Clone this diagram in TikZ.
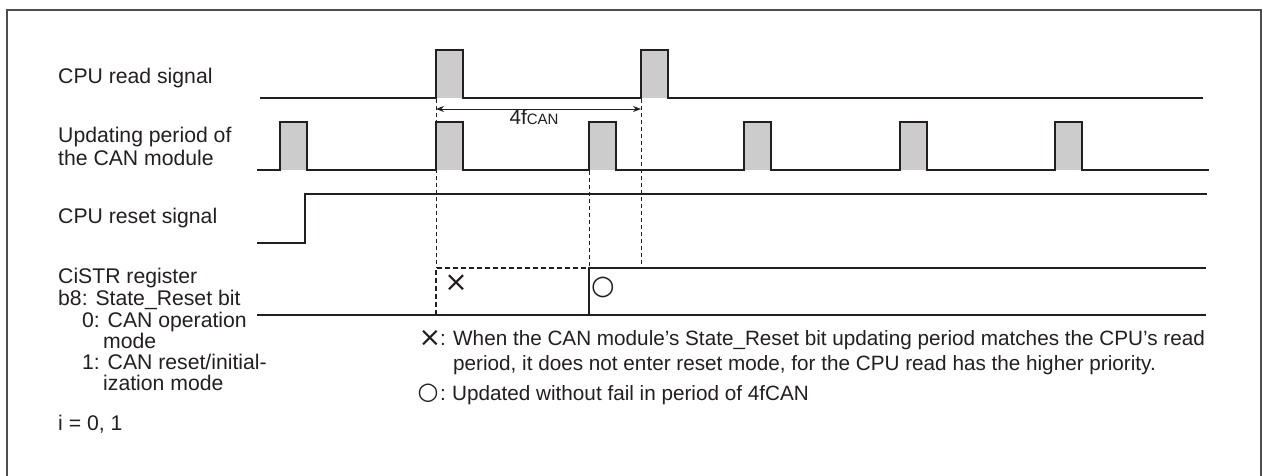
\documentclass[tikz,border=0pt]{standalone}
\usepackage{fontspec}
\setmainfont{Liberation Sans}
\newfontfamily\symfont{DejaVu Sans}
\usetikzlibrary{arrows.meta}
\definecolor{ink}{HTML}{231F20}
\definecolor{pulsefill}{HTML}{CCCCCC}
\definecolor{framecol}{HTML}{4D4D4D}
\begin{document}
\begin{tikzpicture}[x=1pt,y=-1pt,
  sig/.style={draw=ink,line width=2pt,line join=miter},
  guide/.style={draw=ink,line width=0.9pt,dash pattern=on 4pt off 3pt},
  regdash/.style={draw=ink,line width=1.8pt,dash pattern=on 5pt off 3pt},
  pulse/.style={fill=pulsefill},
  lbl/.style={anchor=base west,inner sep=0pt,font=\fontsize{21.2}{22}\selectfont,text=ink},
  note/.style={anchor=base west,inner sep=0pt,font=\fontsize{20.7}{22}\selectfont,text=ink},
  symb/.style={inner sep=0pt,text=ink},
]
\useasboundingbox (0,0) rectangle (1262,475);
\fill[white] (0,0) rectangle (1262,475);
\draw[framecol,line width=2pt] (7,477) -- (7,10) -- (1261,10) -- (1261,477);

% left labels
\node[lbl] (l1) at (58,83) {CPU read signal};
\node[lbl] (l2a) at (58,142.5) {Updating period of};
\node[lbl] (l2b) at (58,165) {the CAN module};
\node[lbl] (l3) at (58,223) {CPU reset signal};
\node[lbl] (l4a) at (58,283) {CiSTR register};
\node[lbl] (l4b) at (58,305) {b8: State\_Reset bit};
\node[lbl] (l4c) at (82,327) {0: CAN operation};
\node[lbl] (l4d) at (103,348) {mode};
\node[lbl] (l4e) at (82,369) {1: CAN reset/initial-};
\node[lbl] (l4f) at (103,390) {ization mode};
\node[lbl] (l5) at (58,430) {i = 0, 1};

% pulse fills
\foreach \x in {436,641} \fill[pulse] (\x,50) rectangle (\x+27,98);
\foreach \x in {280,436,589,744,900,1055} \fill[pulse] (\x,122) rectangle (\x+27,170);

% dashed guides
\draw[guide] (436,99) -- (436,268);
\draw[guide] (641,99) -- (641,268);
\draw[guide] (589,171) -- (589,268);

% CPU read signal
\draw[sig] (260,98) -- (436,98) -- (436,50) -- (463,50) -- (463,98) -- (641,98) -- (641,50) -- (668,50) -- (668,98) -- (1203,98);
% Updating period
\draw[sig] (257,170) -- (280,170) -- (280,122) -- (307,122) -- (307,170)
  -- (436,170) -- (436,122) -- (463,122) -- (463,170)
  -- (589,170) -- (589,122) -- (616,122) -- (616,170)
  -- (744,170) -- (744,122) -- (771,122) -- (771,170)
  -- (900,170) -- (900,122) -- (927,122) -- (927,170)
  -- (1055,170) -- (1055,122) -- (1082,122) -- (1082,170) -- (1209,170);
% CPU reset
\draw[sig] (257,243) -- (305,243) -- (305,194) -- (1207,194);
% CiSTR register
\draw[sig] (257,315) -- (1206,315);
\draw[regdash] (436,315) -- (436,268) -- (589,268);
\draw[sig] (589,315) -- (589,268) -- (1206,268);

% 4fCAN dimension
\coordinate (a1) at (436,109);
\coordinate (a2) at (641,109);
\draw[ink,line width=0.9pt,{Stealth[length=8pt,width=6pt]}-{Stealth[length=8pt,width=6pt]}] (a1) -- (a2);
\node[note,anchor=base] (dim) at (534,124) {4f{\fontsize{15}{15}\selectfont CAN}};

% marks in register
\node[symb,font=\symfont\fontsize{28}{28}\selectfont] (x1) at (456,283) {×};
\node[symb,font=\symfont\fontsize{27}{27}\selectfont] (o1) at (603,287) {○};

% notes
\node[symb,font=\symfont\fontsize{27}{27}\selectfont] (x2) at (430,338) {×};
\node[note] (c1) at (440,345) {:};
\node[note] (n1) at (453,345) {When the CAN module’s State\_Reset bit updating period matches the CPU’s read};
\node[note] (n2) at (453,370) {period, it does not enter reset mode, for the CPU read has the higher priority.};
\node[symb,font=\symfont\fontsize{24}{24}\selectfont] (o2) at (428,393) {○};
\node[note] (c2) at (440,400) {:};
\node[note] (n3) at (452,400) {Updated without fail in period of 4fCAN};
\end{tikzpicture}
\end{document}
